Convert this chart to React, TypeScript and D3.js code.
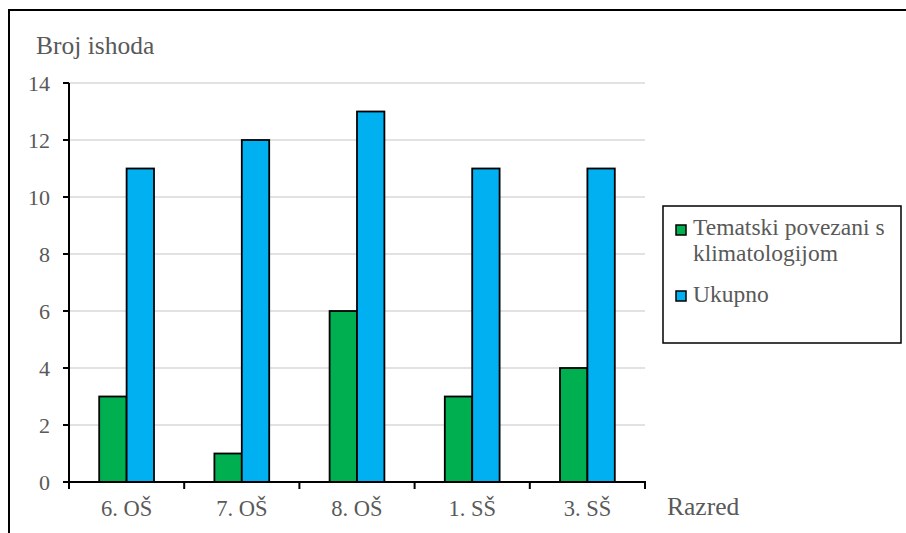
import React from "react";
import * as d3 from "d3";

const categories = ["6. OŠ", "7. OŠ", "8. OŠ", "1. SŠ", "3. SŠ"];
const seriesNames = ["Tematski povezani s klimatologijom", "Ukupno"];
const legendLines = ["Tematski povezani s", "klimatologijom"];
const greenValues = [3, 1, 6, 3, 4];
const blueValues = [11, 12, 13, 11, 11];
const yTicks = [0, 2, 4, 6, 8, 10, 12, 14];
const colors = ["#00B050", "#00B0F0"];

export default function App() {
  const W = 906, H = 533;
  const x0 = 69, x1 = 645, yTop = 83, yBot = 482;
  const x = d3.scaleBand<string>().domain(categories).range([x0, x1]).paddingInner(0).paddingOuter(0);
  const y = d3.scaleLinear().domain([0, 14]).range([yBot, yTop]);
  const barW = 27.4;
  const textColor = "#595959";
  const series = [greenValues, blueValues];
  const boundaries = categories.map((c) => x(c) as number).concat([x1]);
  const ts = (size: number): React.CSSProperties => ({ fontFamily: "Liberation Serif", fontSize: size + "px" });

  return (
    <svg width={W} height={H} style={{ position: "absolute", left: 0, top: 0, background: "#fff" }}>
      <rect x={9} y={10} width={W + 20} height={H + 20} fill="#fff" stroke="#000" strokeWidth={2} />
      {yTicks.map((t) => (
        <line key={"g" + t} x1={x0} x2={x1} y1={y(t)} y2={y(t)} stroke="#d9d9d9" strokeWidth={1.5} />
      ))}
      {categories.map((c, i) => {
        const cx = (x(c) as number) + x.bandwidth() / 2;
        return series.map((vals, s) => (
          <rect
            key={c + s}
            x={cx - barW + s * barW}
            y={y(vals[i])}
            width={barW}
            height={yBot - y(vals[i])}
            fill={colors[s]}
            stroke="#000"
            strokeWidth={1.8}
          />
        ));
      })}
      <line x1={x0} x2={x0} y1={yTop} y2={yBot} stroke="#000" strokeWidth={2} />
      <line x1={x0 - 6} x2={x1 + 1} y1={yBot} y2={yBot} stroke="#000" strokeWidth={2} />
      {yTicks.map((t) => (
        <line key={"t" + t} x1={x0 - 6} x2={x0} y1={y(t)} y2={y(t)} stroke="#000" strokeWidth={2} />
      ))}
      {boundaries.map((b, i) => (
        <line key={"xt" + i} x1={b} x2={b} y1={yBot} y2={yBot + 7} stroke="#000" strokeWidth={2} />
      ))}
      {yTicks.map((t) => (
        <text key={"l" + t} x={50} y={y(t) + 7.5} textAnchor="end" style={ts(22)} fill={textColor}>
          {t}
        </text>
      ))}
      {categories.map((c) => (
        <text
          key={"xl" + c}
          x={(x(c) as number) + x.bandwidth() / 2}
          y={516}
          textAnchor="middle"
          style={ts(22.5)}
          fill={textColor}
        >
          {c}
        </text>
      ))}
      <text x={36} y={54} style={ts(25.5)} fill={textColor}>Broj ishoda</text>
      <text x={667} y={515} style={ts(25.5)} fill={textColor}>Razred</text>
      <rect x={663} y={206} width={238} height={137} fill="#fff" stroke="#000" strokeWidth={1.5} />
      <rect x={676} y={225} width={10} height={10} fill={colors[0]} stroke="#000" strokeWidth={1.5} />
      <text x={693} y={235} style={ts(23.5)} fill={textColor}>{legendLines[0]}</text>
      <text x={693} y={261} style={ts(23.5)} fill={textColor}>{legendLines[1]}</text>
      <rect x={676} y={291} width={10} height={10} fill={colors[1]} stroke="#000" strokeWidth={1.5} />
      <text x={693} y={302} style={ts(23.5)} fill={textColor}>{seriesNames[1]}</text>
    </svg>
  );
}
